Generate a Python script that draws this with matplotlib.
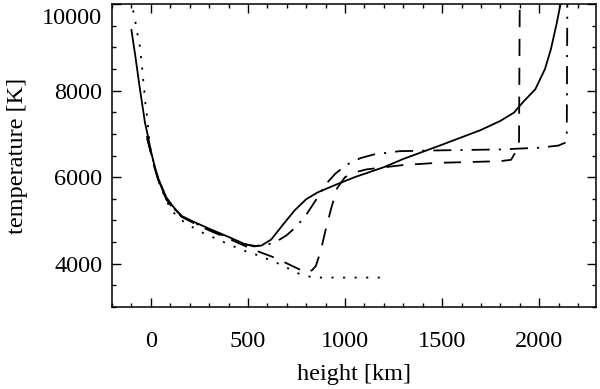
import matplotlib
matplotlib.use("Agg")
import matplotlib.pyplot as plt
import matplotlib.transforms as mtransforms
from matplotlib.ticker import MultipleLocator

# height [km], temperature [K]
solid_h = [-100, -80, -60, -45, -30, -15, 0, 20, 40, 80, 120, 160, 220, 300, 400, 480, 530, 570, 620, 680,
           740, 800, 860, 950, 1050, 1200, 1300, 1500, 1700, 1800, 1870, 1920, 1980, 2030, 2060, 2090, 2110, 2115]
solid_t = [9400, 8800, 8150, 7700, 7250, 6950, 6600, 6250, 5950, 5530, 5290, 5100, 4970, 4810, 4620, 4460, 4400, 4420, 4560, 4900,
           5230, 5490, 5650, 5820, 6000, 6230, 6420, 6750, 7090, 7300, 7490, 7750, 8030, 8500, 8950, 9550, 10000, 10200]

dashed_h = [-20, 0, 20, 40, 80, 120, 160, 220, 300, 400, 500, 560, 620, 690, 760, 800, 830, 850, 875, 900,
            930, 960, 1000, 1050, 1112, 1300, 1473, 1650, 1800, 1855, 1888, 1896, 1900]
dashed_t = [6950, 6550, 6200, 5900, 5480, 5250, 5080, 4940, 4770, 4580, 4380, 4270, 4170, 4030, 3880, 3790, 3850, 3950, 4300, 4780,
            5300, 5750, 6000, 6110, 6180, 6280, 6330, 6350, 6370, 6400, 6650, 6700, 10200]

dashdot_h = [-20, 0, 20, 40, 80, 120, 160, 220, 300, 400, 480, 540, 600, 650, 700, 750, 800, 850, 900, 950,
             1010, 1080, 1150, 1280, 1500, 1800, 2000, 2100, 2135, 2142, 2145]
dashdot_t = [6900, 6580, 6230, 5920, 5500, 5270, 5090, 4950, 4790, 4600, 4450, 4410, 4440, 4520, 4660, 4860, 5130, 5470, 5830, 6080,
             6290, 6440, 6525, 6600, 6620, 6640, 6680, 6730, 6800, 6900, 10200]

dotted_h = [-100, -89, -77, -67, -55, -50, -43, -38, -32, -27, -21, -10, 0, 20, 40, 80, 108, 160, 246, 300,
            400, 480, 562, 665, 734, 768, 837, 900, 1000, 1206]
dotted_t = [10150, 9792, 9523, 9254, 8986, 8716, 8447, 8178, 7909, 7639, 7447, 6950, 6600, 6220, 5900, 5460, 5218, 5000, 4757, 4650,
            4450, 4300, 4180, 3988, 3834, 3757, 3682, 3680, 3680, 3680]

x_ticks = [0, 500, 1000, 1500, 2000]
y_ticks = [4000, 6000, 8000, 10000]

plt.rcParams['font.family'] = ['Liberation Serif', 'DejaVu Serif']

fig = plt.figure(figsize=(6.0, 3.89), dpi=100)
ax = fig.add_axes([0.1867, 0.2108, 0.8058, 0.7789])

lw = 1.3
ax.plot(solid_h, solid_t, color='black', lw=lw, linestyle='-')
ax.plot(dashed_h, dashed_t, color='black', lw=lw, linestyle=(0, (9.5, 6.5)))
ax.plot(dashdot_h, dashdot_t, color='black', lw=lw, linestyle=(0, (10, 5, 1.2, 5)))
ax.plot(dotted_h, dotted_t, color='black', lw=lw, linestyle=(0, (1.2, 5.2)))

ax.set_xlim(-200, 2290)
ax.set_ylim(3000, 10000)
ax.set_xticks(x_ticks)
ax.set_yticks(y_ticks)
ax.xaxis.set_minor_locator(MultipleLocator(100))
ax.yaxis.set_minor_locator(MultipleLocator(500))
ax.tick_params(which='both', direction='in', top=True, right=True, width=1.0, labelsize=17.5, colors='black')
ax.tick_params(which='major', length=6.5)
ax.tick_params(which='minor', length=3)
ax.tick_params(axis='x', which='major', pad=17)
ax.tick_params(axis='y', which='major', pad=7)
for s in ax.spines.values():
    s.set_linewidth(1.1)

ax.set_xlabel('height [km]', fontsize=17.5, labelpad=9)
ax.set_ylabel('temperature [K]', fontsize=17.5, labelpad=10)

fig.canvas.draw()
for lab in ax.get_yticklabels():
    if lab.get_text() == '10000':
        lab.set_transform(lab.get_transform() + mtransforms.ScaledTranslation(0, -12 / 100, fig.dpi_scale_trans))

fig.savefig('out.png', dpi=100)
